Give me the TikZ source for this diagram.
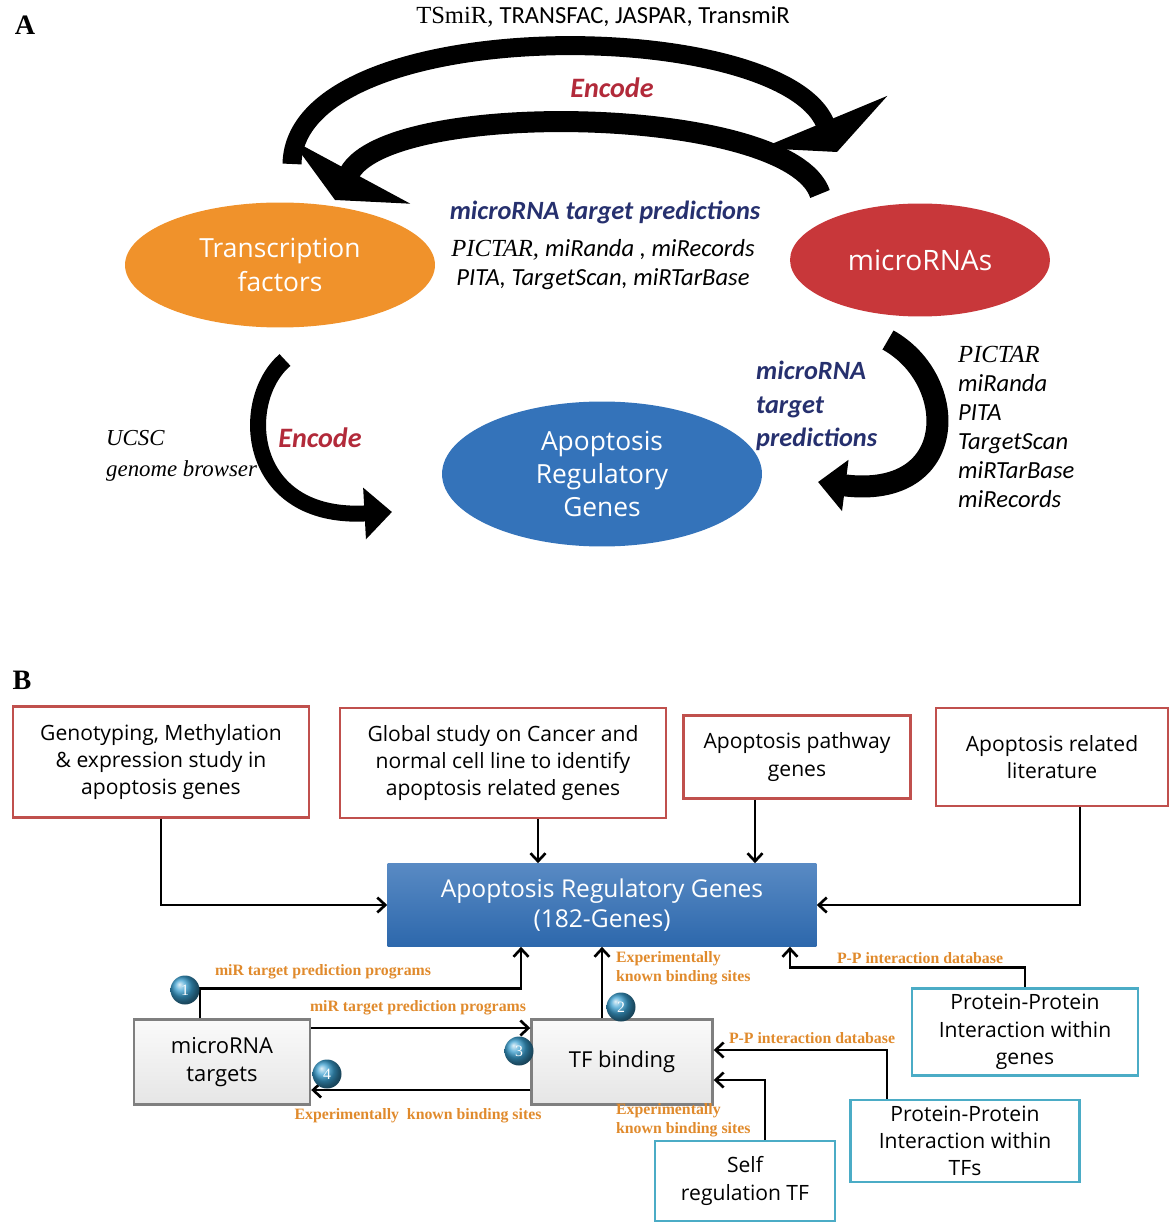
\documentclass[tikz,border=0pt]{standalone}
\usepackage{fontspec}
\setmainfont{Liberation Serif}
\newfontfamily\calfont{Carlito}
\newfontfamily\boxfont{Open Sans}
\usetikzlibrary{shapes.geometric,arrows.meta,calc}

\definecolor{tforange}{HTML}{F0922B}
\definecolor{mirred}{HTML}{C8373A}
\definecolor{genblue}{HTML}{3473BA}
\definecolor{argblue}{HTML}{2F6DB5}
\definecolor{encred}{HTML}{B22A3A}
\definecolor{prednavy}{HTML}{26306E}
\definecolor{dbtext}{HTML}{E08A2C}
\definecolor{srcred}{HTML}{C0504D}
\definecolor{ppteal}{HTML}{4BACC6}
\definecolor{tgtgray}{HTML}{7F7F7F}
\definecolor{badgeblue}{HTML}{3A9FD0}

\begin{document}
\begin{tikzpicture}[x=0.02cm, y=-0.02cm,
    cell/.style={ellipse, text=white, align=center, font=\boxfont\fontsize{15}{19}\selectfont},
    source/.style={rectangle, draw=srcred, line width=1.6pt, fill=white, align=center, font=\boxfont\fontsize{12}{15.5}\selectfont},
    ppbox/.style={rectangle, draw=ppteal, line width=1.6pt, fill=white, align=center, font=\boxfont\fontsize{12}{15.5}\selectfont},
    target/.style={rectangle, draw=tgtgray, line width=1.4pt, top color=gray!4, bottom color=gray!20, align=center, font=\boxfont\fontsize{12.5}{15.5}\selectfont},
    badge/.style={circle, ball color=badgeblue, text=white, minimum size=0.58cm, inner sep=0pt, font=\fontsize{9}{9}\selectfont},
    dblabel/.style={text=dbtext, font=\bfseries\fontsize{9}{11}\selectfont, inner sep=1pt},
    encode/.style={text=encred, font=\calfont\bfseries\itshape\fontsize{16}{18}\selectfont},
    pred/.style={text=prednavy, font=\calfont\bfseries\itshape\fontsize{15}{19}\selectfont},
    toparrow/.style={line width=0.38cm, -{Triangle[width=2.7cm,length=0.65cm]}},
    sidearrow/.style={line width=0.38cm, -{Triangle[width=1.0cm,length=0.55cm]}},
    link/.style={line width=1.5pt, -{Straight Barb[length=1.6mm,width=3mm]}}
]
\useasboundingbox (0,0) rectangle (1173,1222);

% Panel A
\node[font=\bfseries\fontsize{16}{16}\selectfont] (pa) at (25,25) {A};
\node[font=\fontsize{14}{14}\selectfont] (srcs) at (603,17) {TSmiR, {\calfont TRANSFAC, JASPAR, TransmiR}};

\node[cell, fill=tforange, minimum width=6.2cm, minimum height=2.5cm] (tf) at (280,265) {Transcription\\factors};
\node[cell, fill=mirred, minimum width=5.2cm, minimum height=2.26cm, font=\boxfont\fontsize{16}{19}\selectfont] (mir) at (920,260) {microRNAs};
\node[cell, fill=genblue, minimum width=6.4cm, minimum height=2.9cm] (arg) at (602,474) {Apoptosis\\Regulatory\\Genes};

% curved arrows between the three groups
\coordinate (e1a) at (292,164);
\coordinate (e1b) at (837,152);
\coordinate (e2a) at (820,194);
\coordinate (e2b) at (335,200);
\coordinate (e3a) at (285,360);
\coordinate (e3b) at (392,512);
\coordinate (e4a) at (888,340);
\coordinate (e4b) at (818,482);

\draw[toparrow] (e1a) .. controls (295,12) and (780,15) .. (e1b);
\draw[toparrow, line width=0.42cm] (e2a) .. controls (790,105) and (390,98) .. (e2b);
\draw[sidearrow, line width=0.32cm] (e3a) .. controls (238,400) and (245,520) .. (e3b);
\draw[sidearrow, line width=0.44cm] (e4a) .. controls (960,380) and (960,500) .. (e4b);

% Labels of panel A
\node[encode] (enc1) at (612,88) {Encode};
\node[pred] (pred1) at (605,212) {microRNA target predictions};
\node[align=center, font=\itshape\fontsize{14}{16.5}\selectfont] (tools1) at (603,265)
    {PICTAR, {\calfont miRanda , miRecords}\\{\calfont PITA, TargetScan, miRTarBase}};
\node[encode] (enc2) at (320,438) {Encode};
\node[anchor=west, align=left, font=\itshape\fontsize{13}{17.5}\selectfont] (ucsc) at (100,456) {UCSC\\genome browser};
\node[pred, anchor=west, align=left] (pred2) at (750,406) {microRNA\\target\\predictions};
\node[anchor=west, align=left, font=\calfont\itshape\fontsize{14}{16.6}\selectfont] (tools2) at (952,427)
    {{\rmfamily PICTAR}\\miRanda\\PITA\\TargetScan\\miRTarBase\\miRecords};

% Panel B
\node[font=\bfseries\fontsize{16}{16}\selectfont] (pb) at (22,680) {B};

\node[source, minimum width=5.92cm, minimum height=2.22cm] (g1) at (161,762) {Genotyping, Methylation\\\& expression study in\\apoptosis genes};
\node[source, minimum width=6.52cm, minimum height=2.2cm] (g2) at (503,763) {Global study on Cancer and\\normal cell line to identify\\apoptosis related genes};
\node[source, minimum width=4.54cm, minimum height=1.66cm] (g3) at (797,757) {Apoptosis pathway\\genes};
\node[source, minimum width=4.64cm, minimum height=1.96cm] (g4) at (1052,757) {Apoptosis related\\literature};

\node[rectangle, top color=argblue!80!white, bottom color=argblue!95!black, text=white, align=center,
      minimum width=8.58cm, minimum height=1.66cm, font=\boxfont\fontsize{14}{17}\selectfont] (regs) at (602,905)
      {Apoptosis Regulatory Genes\\(182-Genes)};

\node[target, minimum width=3.52cm, minimum height=1.7cm] (mt) at (222,1062) {microRNA\\targets};
\node[target, minimum width=3.62cm, minimum height=1.7cm] (tfb) at (622,1062) {TF binding};
\node[ppbox, minimum width=4.52cm, minimum height=1.68cm] (pp1) at (1025,1032) {Protein-Protein\\Interaction within\\genes};
\node[ppbox, minimum width=4.58cm, minimum height=1.64cm] (pp2) at (965,1141) {Protein-Protein\\Interaction within\\TFs};
\node[ppbox, minimum width=3.6cm, minimum height=1.6cm] (self) at (745,1181) {Self\\regulation TF};

% Sources into the gene set
\draw[link] (g1.south) |- (regs.west);
\draw[link] ([xshift=0.7cm]g2.south) -- ([xshift=0.7cm]g2.south |- regs.north);
\draw[link] ([xshift=-0.84cm]g3.south) -- ([xshift=-0.84cm]g3.south |- regs.north);
\draw[link] ([xshift=0.56cm]g4.south) |- (regs.east);

% microRNA and TF links
\draw[link] ([xshift=-0.44cm]mt.north) -- ++(0,-30) -| ([xshift=-1.62cm]regs.south);
\draw[link] ([yshift=0.68cm]mt.east) -- ([yshift=0.68cm]mt.east -| tfb.west);
\draw[link] ([yshift=-0.56cm]tfb.west) -- ([yshift=-0.56cm]tfb.west -| mt.east);
\draw[link] ([xshift=-0.4cm]tfb.north) -- ([xshift=-0.4cm]tfb.north |- regs.south);
\draw[link] (pp1.north) -- ++(0,-20) -| ([xshift=3.76cm]regs.south);
\draw[link] ([xshift=-1.56cm]pp2.north) |- ([yshift=0.24cm]tfb.east);
\draw[link] ([xshift=0.4cm]self.north) |- ([yshift=-0.36cm]tfb.east);

% Database labels
\node[dblabel] (l1) at (323,972) {miR target prediction programs};
\node[dblabel] (l2) at (418,1008) {miR target prediction programs};
\node[dblabel] (l3) at (418,1116) {Experimentally\ \ known binding sites};
\node[dblabel, anchor=west, align=left] (l4) at (614,968) {Experimentally\\known binding sites};
\node[dblabel] (l5) at (920,958) {P-P interaction database};
\node[dblabel] (l6) at (812,1038) {P-P interaction database};
\node[dblabel, anchor=west, align=left] (l7) at (614,1120) {Experimentally\\known binding sites};

% Numbered steps
\node[badge] (n1) at (185,990) {1};
\node[badge] (n2) at (621,1007) {2};
\node[badge] (n3) at (519,1051) {3};
\node[badge] (n4) at (327,1074) {4};

\end{tikzpicture}
\end{document}
